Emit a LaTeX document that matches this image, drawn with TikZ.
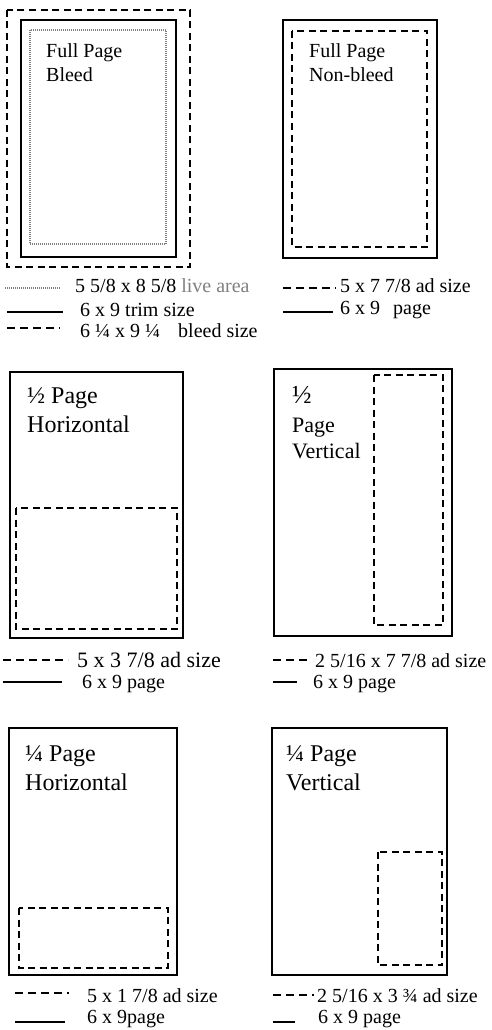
\documentclass[tikz,border=0pt]{standalone}
\usepackage{fontspec}
\setmainfont{Liberation Serif}
\begin{document}
\begin{tikzpicture}[x=1pt,y=-1pt,
	page/.style={draw,line width=1.5pt},
	adbox/.style={draw,line width=2pt,dash pattern=on 7pt off 4.5pt},
	adline/.style={draw,line width=2pt,dash pattern=on 8pt off 5pt},
	livearea/.style={draw=gray,line width=1.3pt,dash pattern=on 1pt off 1pt},
	title/.style={anchor=base west,inner sep=0pt,font=\fontsize{20}{24}\selectfont},
	bigtitle/.style={title,font=\fontsize{24}{28}\selectfont},
	legend/.style={anchor=base west,inner sep=0pt,font=\fontsize{20}{24}\selectfont}]
	\useasboundingbox (0,0) rectangle (492,1030);
	% full page bleed
	\draw[adbox] (7,10) rectangle (190,267);
	\draw[page] (21,20) rectangle (176,257);
	\draw[livearea] (30,30) rectangle (166,244);
	\node[title] (fpb1) at (46,58) {Full Page};
	\node[title] (fpb2) at (46,82) {Bleed};
	\draw[livearea] (5,288) -- (60,288);
	\node[legend] (live) at (75,292) {5 5/8 x 8 5/8 \textcolor{gray}{live area}};
	\draw[page] (7,312) -- (63,312);
	\node[legend] (trim) at (80,316) {6 x 9 trim size};
	\draw[adline] (7,328) -- (60,328);
	\node[legend] (bleed) at (80,337) {6 ¼ x 9 ¼\hspace{18pt}bleed size};
	% full page non-bleed
	\draw[page] (283,20) rectangle (437,258);
	\draw[adbox] (292,31) rectangle (427,247);
	\node[title] (fpn1) at (309,58) {Full Page};
	\node[title] (fpn2) at (309,82) {Non-bleed};
	\draw[adline] (283,288) -- (336,288);
	\node[legend] (fpnad) at (340,292) {5 x 7 7/8 ad size};
	\draw[page] (283,312) -- (333,312);
	\node[legend] (fpnpage) at (340,314) {6 x 9\hspace{13pt}page};
	% half page horizontal
	\draw[page] (10,372) rectangle (183,638);
	\draw[adbox] (16,508) rectangle (177,629);
	\node[bigtitle] (hph1) at (27,403) {½ Page};
	\node[bigtitle] (hph2) at (27,432) {Horizontal};
	\draw[adline] (3,660) -- (68,660);
	\node[legend,font=\fontsize{22}{26}\selectfont] (hphad) at (77,667) {5 x 3 7/8 ad size};
	\draw[page] (3,682) -- (62,682);
	\node[legend] (hphpage) at (82,688) {6 x 9 page};
	% half page vertical
	\draw[page] (274,369) rectangle (452,636);
	\draw[adbox] (374,375) rectangle (443,625);
	\node[title,font=\fontsize{26}{28}\selectfont] (hpv1) at (292,403) {½};
	\node[title,font=\fontsize{22}{26}\selectfont] (hpv2) at (292,432) {Page};
	\node[title,font=\fontsize{22}{26}\selectfont] (hpv3) at (292,458) {Vertical};
	\draw[adline] (273,660) -- (311,660);
	\node[legend] (hpvad) at (315,667) {2 5/16 x 7 7/8 ad size};
	\draw[page] (273,682) -- (297,682);
	\node[legend] (hpvpage) at (313,688) {6 x 9 page};
	% quarter page horizontal
	\draw[page] (9,728) rectangle (177,975);
	\draw[adbox] (19,908) rectangle (168,968);
	\node[bigtitle] (qph1) at (25,761) {¼ Page};
	\node[bigtitle] (qph2) at (25,790) {Horizontal};
	\draw[adline] (15,993) -- (69,993);
	\node[legend] (qphad) at (87,1002) {5 x 1 7/8 ad size};
	\draw[page] (15,1022) -- (65,1022);
	\node[legend] (qphpage) at (87,1023) {6 x 9page};
	% quarter page vertical
	\draw[page] (272,728) rectangle (447,975);
	\draw[adbox] (378,852) rectangle (442,965);
	\node[bigtitle] (qpv1) at (286,761) {¼ Page};
	\node[bigtitle] (qpv2) at (286,790) {Vertical};
	\draw[adline] (273,995) -- (314,995);
	\node[legend] (qpvad) at (317,1002) {2 5/16 x 3 ¾ ad size};
	\draw[page] (273,1022) -- (295,1022);
	\node[legend] (qpvpage) at (318,1023) {6 x 9 page};
\end{tikzpicture}
\end{document}
